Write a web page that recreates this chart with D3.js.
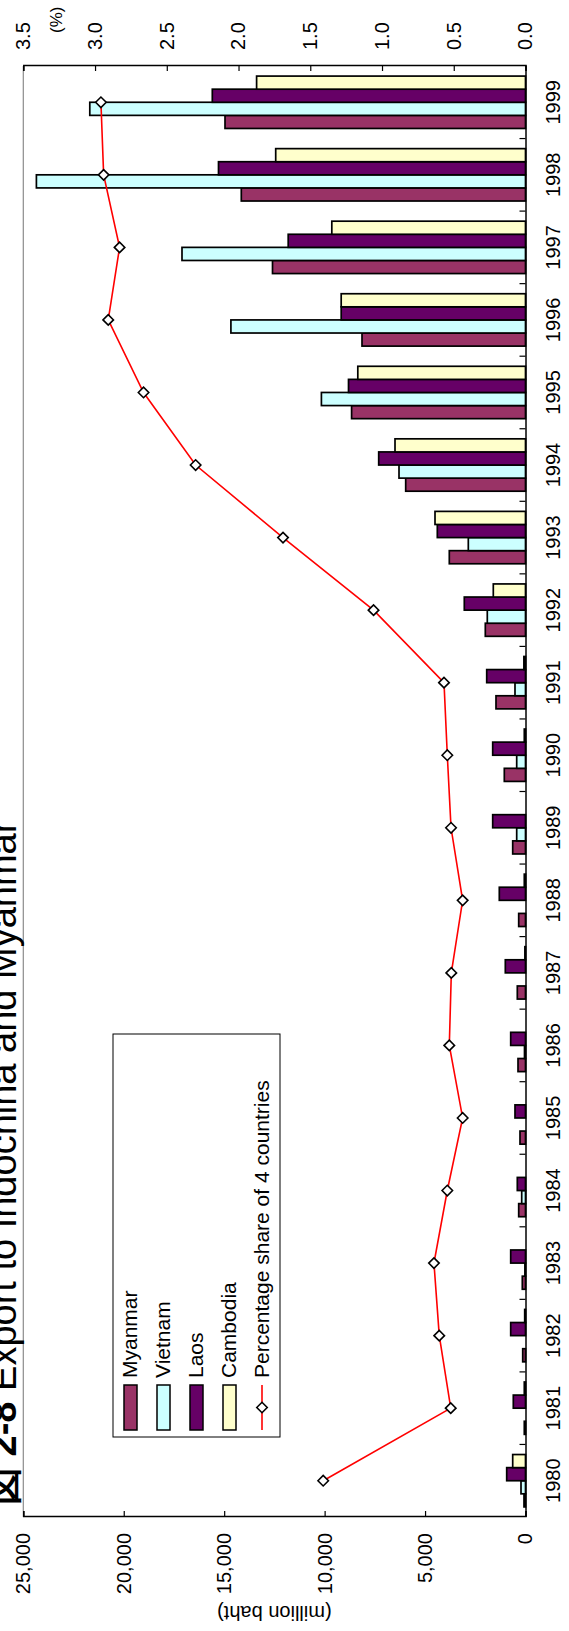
<!DOCTYPE html>
<html>
<head>
<meta charset="utf-8">
<script src="https://cdn.jsdelivr.net/npm/d3@7"></script>
<style>
  html, body { margin: 0; padding: 0; background: #fff; }
  svg { display: block; }
  text { font-family: "Liberation Sans", Arial, sans-serif; fill: #000; }
</style>
</head>
<body>
<script>
// Thai exports to Indochina and Myanmar, 1980-1999 (million baht) and share of total exports (%)
const years = ["1980","1981","1982","1983","1984","1985","1986","1987","1988","1989",
               "1990","1991","1992","1993","1994","1995","1996","1997","1998","1999"];
const myanmar  = [75, 60, 139, 159, 339, 274, 373, 408, 339, 637, 1055, 1469, 2001, 3793, 5964, 8657, 8139, 12594, 14148, 14959];
const vietnam  = [224, 0, 0, 30, 189, 0, 50, 0, 0, 438, 438, 523, 1902, 2847, 6297, 10160, 14665, 17100, 24348, 21690];
const laos     = [936, 607, 737, 737, 408, 523, 737, 1005, 1304, 1633, 1633, 1931, 3047, 4390, 7308, 8811, 9175, 11813, 15283, 15591];
const cambodia = [637, 60, 40, 0, 0, 0, 0, 30, 60, 0, 60, 80, 1603, 4505, 6496, 8348, 9175, 9642, 12435, 13386];
const share    = [1.41, 0.521, 0.601, 0.638, 0.545, 0.438, 0.531, 0.517, 0.438, 0.519, 0.545, 0.568, 1.059, 1.690, 2.299, 2.662, 2.908, 2.829, 2.940, 2.959];
const seriesNames = ["Myanmar", "Vietnam", "Laos", "Cambodia"];
const seriesColors = ["#993366", "#CCFFFF", "#660066", "#FFFFCC"];
const valueTicks = [0, 5000, 10000, 15000, 20000, 25000];
const shareTicks = [0, 0.5, 1.0, 1.5, 2.0, 2.5, 3.0, 3.5];
const lineName = "Percentage share of 4 countries";

const series = [myanmar, vietnam, laos, cambodia];

// The chart is laid out landscape (1631 x 569) and turned a quarter turn on the page.
const PW = 569, PH = 1631;
const plot = { left: 114, right: 1565, top: 23.3, bottom: 525.5 };

const svg = d3.select("body").append("svg").attr("width", PW).attr("height", PH);
svg.append("rect").attr("width", PW).attr("height", PH).attr("fill", "#fff");
const g = svg.append("g").attr("transform", `translate(0,${PH}) rotate(-90)`);

const x0 = d3.scaleBand().domain(years).range([plot.left, plot.right]).padding(0);
const groupW = x0.bandwidth() * 0.722;
const x1 = d3.scaleBand().domain(seriesNames)
  .range([(x0.bandwidth() - groupW) / 2, (x0.bandwidth() + groupW) / 2]).padding(0);
const y = d3.scaleLinear().domain([0, 25000]).range([plot.bottom, plot.top]);
const yP = d3.scaleLinear().domain([0, 3.5]).range([plot.bottom, plot.top]);

// plot frame: top edge grey
g.append("line").attr("x1", plot.left).attr("x2", plot.right)
  .attr("y1", plot.top).attr("y2", plot.top).attr("stroke", "#8c8c8c").attr("stroke-width", 1.2);

// bars
years.forEach((yr, i) => {
  const grp = g.append("g").attr("transform", `translate(${x0(yr)},0)`);
  series.forEach((arr, s) => {
    const v = arr[i];
    if (v <= 0) return;
    grp.append("rect")
      .attr("x", x1(seriesNames[s]))
      .attr("y", y(v))
      .attr("width", x1.bandwidth())
      .attr("height", y(0) - y(v))
      .attr("fill", seriesColors[s])
      .attr("stroke", "#000")
      .attr("stroke-width", 1.7);
  });
});

// value axis (left)
const axL = g.append("g").attr("transform", `translate(${plot.left},0)`)
  .call(d3.axisLeft(y).tickValues(valueTicks).tickSize(-6).tickPadding(16).tickFormat(d3.format(",")));
axL.select(".domain").attr("stroke", "#000").attr("stroke-width", 1.5);
axL.selectAll(".tick line").attr("stroke", "#000").attr("stroke-width", 1.2);
axL.selectAll("text").style("font-size", "20px").style("font-family", "'Liberation Sans', Arial, sans-serif");

// share axis (right)
const axR = g.append("g").attr("transform", `translate(${plot.right},0)`)
  .call(d3.axisRight(yP).tickValues(shareTicks).tickSize(-5).tickPadding(16).tickFormat(d3.format(".1f")));
axR.select(".domain").attr("stroke", "#000").attr("stroke-width", 1.5);
axR.selectAll(".tick line").attr("stroke", "#000").attr("stroke-width", 1.2);
axR.selectAll("text").style("font-size", "20px").style("font-family", "'Liberation Sans', Arial, sans-serif");

// category axis (bottom), ticks between years
const axB = g.append("g").attr("transform", `translate(0,${plot.bottom})`)
  .call(d3.axisBottom(x0).tickSize(0).tickPadding(20.5));
axB.select(".domain").attr("stroke", "#000").attr("stroke-width", 1.5);
axB.selectAll("text").style("font-size", "20px").style("font-family", "'Liberation Sans', Arial, sans-serif");
axB.selectAll("line.sep").data(years.slice(1)).enter().append("line")
  .attr("class", "sep")
  .attr("x1", d => x0(d)).attr("x2", d => x0(d))
  .attr("y1", 0).attr("y2", -6)
  .attr("stroke", "#000").attr("stroke-width", 1.2);

// share line
const line = d3.line().x((d, i) => x0(years[i]) + x0.bandwidth() / 2).y(d => yP(d));
g.append("path").datum(share).attr("d", line)
  .attr("fill", "none").attr("stroke", "#ff0000").attr("stroke-width", 1.6);
const diamond = d3.symbol().type(d3.symbolDiamond2).size(70);
g.selectAll("path.mk").data(share).enter().append("path")
  .attr("class", "mk")
  .attr("d", diamond)
  .attr("transform", (d, i) => `translate(${x0(years[i]) + x0.bandwidth() / 2},${yP(d)})`)
  .attr("fill", "#fff").attr("stroke", "#000").attr("stroke-width", 1.6);

// axis titles
g.append("text").attr("transform", `translate(25,${(plot.top + plot.bottom) / 2}) rotate(-90)`)
  .attr("text-anchor", "middle").style("font-size", "20px").text("(million baht)");
g.append("text").attr("x", 1598).attr("y", 62).style("font-size", "17px").text("(%)");

// title (its upper part runs off the page edge)
const title = g.append("text").attr("x", 126).attr("y", 16).style("font-size", "38px");
title.append("tspan").style("font-weight", "bold").text("図 2-8");
title.append("tspan").text(" Export to Indochina and Myanmar");

// legend
const lg = g.append("g").attr("transform", "translate(194,113)");
lg.append("rect").attr("width", 403).attr("height", 167)
  .attr("fill", "#fff").attr("stroke", "#000").attr("stroke-width", 1);
const rowBase = i => 24 + 33 * i;
seriesNames.forEach((name, i) => {
  lg.append("rect").attr("x", 7).attr("y", rowBase(i) - 13).attr("width", 45).attr("height", 13)
    .attr("fill", seriesColors[i]).attr("stroke", "#000").attr("stroke-width", 1.5);
  lg.append("text").attr("x", 59).attr("y", rowBase(i)).style("font-size", "21px").text(name);
});
const ly = rowBase(4) - 7;
lg.append("line").attr("x1", 7).attr("x2", 52).attr("y1", ly).attr("y2", ly)
  .attr("stroke", "#ff0000").attr("stroke-width", 1.6);
lg.append("path").attr("d", diamond).attr("transform", `translate(29.5,${ly})`)
  .attr("fill", "#fff").attr("stroke", "#000").attr("stroke-width", 1.6);
lg.append("text").attr("x", 59).attr("y", rowBase(4)).style("font-size", "21px").text(lineName);
</script>
</body>
</html>
